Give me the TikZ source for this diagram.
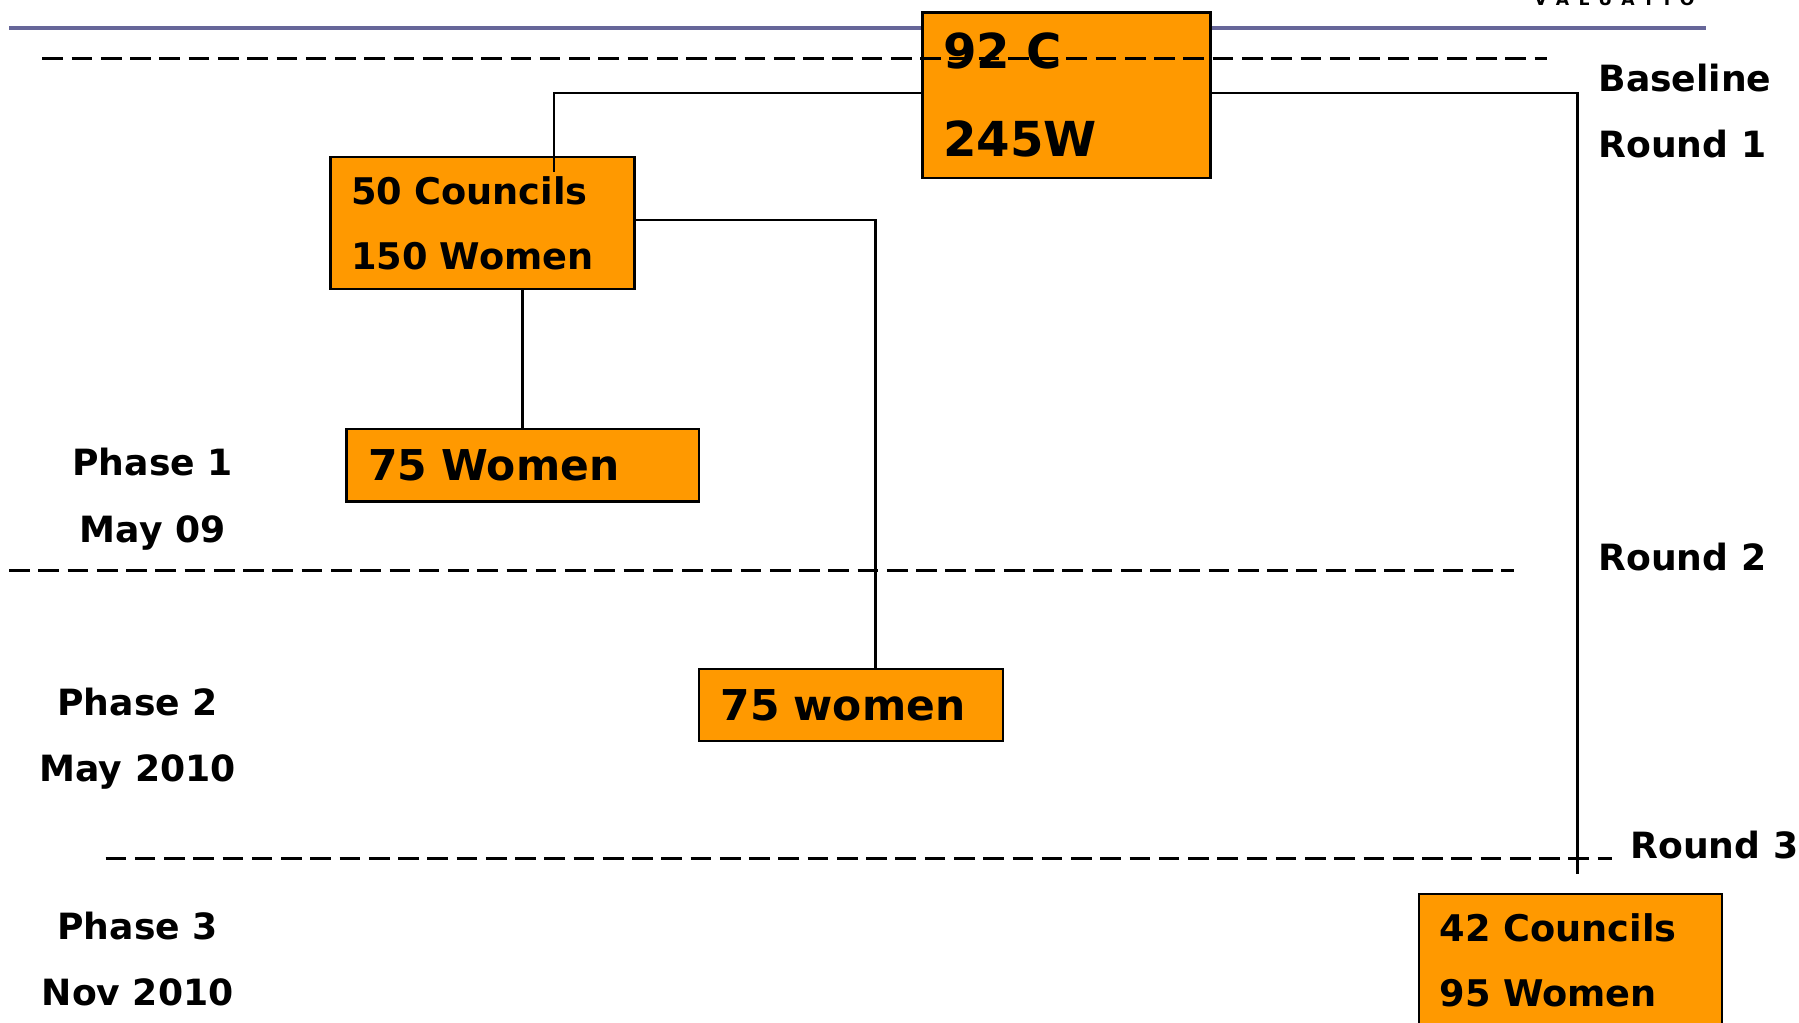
\documentclass[tikz,border=0pt]{standalone}
\usepackage{fontspec}
\setmainfont{DejaVu Sans}
\definecolor{boxorange}{RGB}{255,153,0}
\definecolor{ruleblue}{RGB}{102,102,153}
\tikzset{
  box/.style={draw, line width=2pt, fill=boxorange, anchor=north west, align=left,
    inner xsep=18pt, inner ysep=0pt, font=\bfseries\fontsize{32}{57}\selectfont},
  bigbox/.style={box, font=\bfseries\fontsize{42}{77}\selectfont},
  onebox/.style={box, inner xsep=19pt, font=\bfseries\fontsize{37}{44}\selectfont},
  lbl/.style={inner sep=0pt, anchor=base west, font=\bfseries\fontsize{31.5}{36}\selectfont},
  phaselbl/.style={lbl, anchor=base},
  link/.style={line width=2pt},
  cut/.style={line width=2.5pt, dash pattern=on 18pt off 7.5pt}
}

\begin{document}
\begin{tikzpicture}[x=1pt,y=-1pt]
\useasboundingbox (0,0) rectangle (1568,891);
\draw[ruleblue, line width=3.5pt] (8,24) -- (1487,24);
\node[inner sep=0pt, anchor=base west, font=\bfseries\fontsize{15}{18}\selectfont\addfontfeature{LetterSpace=55}] (logo) at (1337,5) {VALUATIO};

\node[bigbox, text width=215pt, minimum height=144pt] (base) at (803,10) {92 C\\245W};
\node[box, text width=229pt, minimum height=115pt] (c50) at (287,136) {50 Councils\\150 Women};
\node[onebox, text width=269pt, minimum height=63pt] (w75a) at (301,373) {75 Women};
\node[onebox, text width=227pt, minimum height=63pt] (w75b) at (608,582) {75 women};
\node[box, text width=228pt, minimum height=116pt] (c42) at (1236,778) {42 Councils\\95 Women};

\coordinate (r3end) at (1375,762);
\draw[link] ([yshift=2pt]base.west) -| ([xshift=196pt,yshift=-14pt]c50.north west);
\draw[link] ([yshift=2pt]base.east) -| (r3end);
\draw[link] ([yshift=2.5pt]c50.east) -| ([xshift=21.5pt]w75b.north);
\draw[link] (c50.south -| w75a.north) -- (w75a.north);

\draw[cut] (37,51) -- (1348,51);
\draw[cut] (8,497) -- (1320,497);
\draw[cut] (92,748) -- (1405,748);

\node[lbl] (baseline) at (1393,79.5) {Baseline};
\node[lbl] (round1) at (1393,137.5) {Round 1};
\node[lbl] (round2) at (1393,497.5) {Round 2};
\node[lbl] (round3) at (1421,748.5) {Round 3};
\node[phaselbl] (phase1) at (133,414.5) {Phase 1};
\node[phaselbl] (date1) at (133,472.5) {May 09};
\node[phaselbl] (phase2) at (120,623.5) {Phase 2};
\node[phaselbl] (date2) at (120,681.5) {May 2010};
\node[phaselbl] (phase3) at (120,818.5) {Phase 3};
\node[phaselbl] (date3) at (120,876.5) {Nov 2010};
\end{tikzpicture}
\end{document}
